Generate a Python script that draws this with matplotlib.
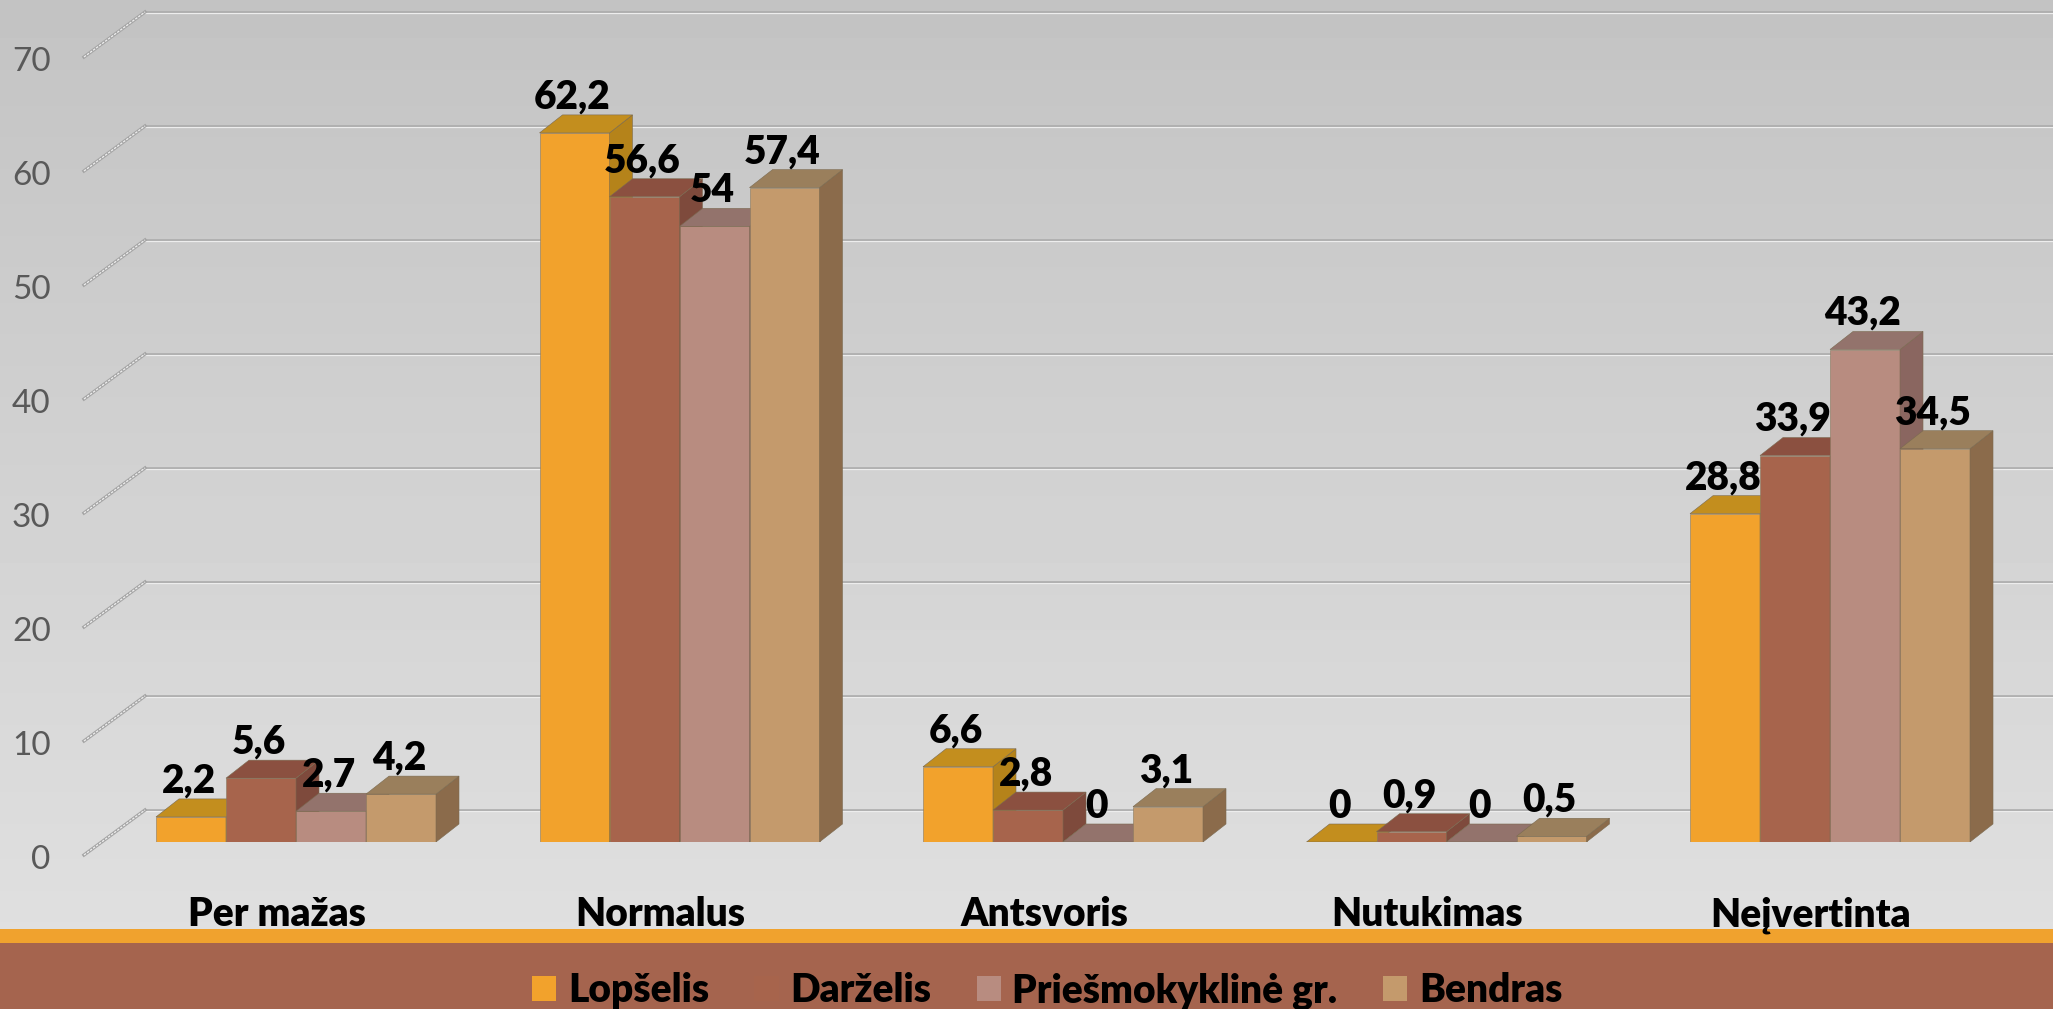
import numpy as np
import matplotlib
matplotlib.use("Agg")
import matplotlib.pyplot as plt
from matplotlib.patches import Patch, Polygon, Rectangle
from matplotlib.transforms import Affine2D

plt.rcParams['font.family'] = ['Lato', 'DejaVu Sans']

categories = ["Per mažas", "Normalus", "Antsvoris", "Nutukimas", "Neįvertinta"]
series_names = ["Lopšelis", "Darželis", "Priešmokyklinė gr.", "Bendras"]
lopselis = [2.2, 62.2, 6.6, 0, 28.8]
darzelis = [5.6, 56.6, 2.8, 0.9, 33.9]
priesmokykline = [2.7, 54, 0, 0, 43.2]
bendras = [4.2, 57.4, 3.1, 0.5, 34.5]
y_ticks = [0, 10, 20, 30, 40, 50, 60, 70]

front_colors = ["#F2A22C", "#A7644C", "#B88C80", "#C49A6C"]
top_colors = ["#C38E1E", "#8B5040", "#93736C", "#9A7F5C"]
side_colors = ["#B5831A", "#7E4A3C", "#8A6660", "#8B6B4B"]

W, H = 2053, 1009
fig = plt.figure(figsize=((W + 0.01) / 100, (H + 0.01) / 100), dpi=100)

# background gradient and the two bands at the bottom, in pixels
bg = fig.add_axes([0, 0, 1, 1], zorder=0)
grad = np.linspace(0.765, 0.885, 256).reshape(-1, 1)
bg.imshow(grad, cmap="gray", vmin=0, vmax=1, aspect="auto", extent=[0, W, H, 0])
bg.add_patch(Rectangle((0, 929), W, 14, color="#F0A22E", lw=0))
bg.add_patch(Rectangle((0, 943), W, H - 943, color="#A5644E", lw=0))
bg.set_xlim(0, W)
bg.set_ylim(H, 0)
bg.axis("off")

# plot axes: left edge = front of the value axis, bottom edge = bar base
left_px, base_px = 84, 842
px_y = 11.4
px_x = 383.5
first_center_px = 296
ax = fig.add_axes([left_px / W, 1 - base_px / H, (W - left_px) / W, base_px / H], zorder=1)
ax.patch.set_alpha(0)
ax.set_xlim((left_px - first_center_px) / px_x, (W - first_center_px) / px_x)
ax.set_ylim(0, base_px / px_y)

depth_x = 23 / px_x
depth_y = 18 / px_y
bar_w = 70 / px_x
wall_x = (145 - first_center_px) / px_x
wall_y = 32 / px_y
foot_y = -13 / px_y
foot_x = (84 - first_center_px) / px_x
xlim_right = ax.get_xlim()[1]

# gridlines on the back wall plus the slanted bit on the side wall
for v in y_ticks:
    ax.plot([wall_x, xlim_right], [v + wall_y, v + wall_y], color="#A9A9A9", lw=1.8, zorder=1)
    ax.plot([wall_x, xlim_right], [v + wall_y - 0.13, v + wall_y - 0.13], color="#EDEDED", lw=0.9, zorder=1)
    ax.plot([foot_x, wall_x], [v + foot_y, v + wall_y], color="#A5A5A5", lw=2.4, zorder=1, clip_on=False)
    ax.plot([foot_x, wall_x], [v + foot_y, v + wall_y], color="#EFEFEF", lw=0.9, ls=(0, (2, 1)), zorder=1, clip_on=False)

all_series = [lopselis, darzelis, priesmokykline, bendras]
x = np.arange(len(categories))
for j, vals in enumerate(all_series):
    xs = x + (j - 1.5) * bar_w
    z = 3 + j
    ax.bar(xs, vals, width=bar_w, color=front_colors[j], edgecolor="#8A7A60", linewidth=0.4, zorder=z)
    for xc, v in zip(xs, vals):
        x0 = xc - bar_w / 2
        x1 = xc + bar_w / 2
        ax.add_patch(Polygon([(x1, 0), (x1, v), (x1 + depth_x, v + depth_y), (x1 + depth_x, depth_y)],
                             closed=True, fc=side_colors[j], ec="#7A6A50", lw=0.4, zorder=z))
        ax.add_patch(Polygon([(x0, v), (x1, v), (x1 + depth_x, v + depth_y), (x0 + depth_x, v + depth_y)],
                             closed=True, fc=top_colors[j], ec="#7A6A50", lw=0.4, zorder=z))
    for xc, v in zip(xs, vals):
        ax.annotate(str(v).replace(".", ","), (xc, v), xytext=(-2, 36), textcoords="offset pixels",
                    ha="center", va="center", fontsize=28, fontweight="heavy", color="black", zorder=20)

for s in ax.spines.values():
    s.set_visible(False)
ax.set_xticks(x)
ax.set_xticklabels(categories, fontsize=28, fontweight="heavy", color="black")
ax.set_yticks(y_ticks)
ax.set_yticklabels([str(t) for t in y_ticks], fontsize=24, color="#595959")
ax.tick_params(axis="x", length=0, pad=39)
ax.tick_params(axis="y", length=0, pad=24)
for lab in ax.get_xticklabels():
    lab.set_transform(lab.get_transform() + Affine2D().translate(-19, 0))
for lab in ax.get_yticklabels():
    lab.set_transform(lab.get_transform() + Affine2D().translate(0, -15))

handles = [Patch(facecolor=c, edgecolor="none") for c in front_colors]
fig.legend(handles, series_names, loc="center left", bbox_to_anchor=(532 / W, 1 - 991 / H),
           ncol=4, frameon=False, borderpad=0, borderaxespad=0,
           handlelength=0.62, handleheight=0.62, handletextpad=0.3, columnspacing=1.17,
           prop={"size": 28, "weight": "heavy"}, labelcolor="black")

fig.savefig("out.png", dpi=100)
